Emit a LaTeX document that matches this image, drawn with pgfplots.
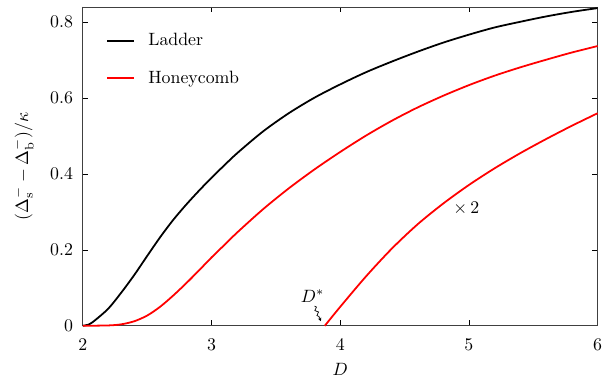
\documentclass[border=0pt]{standalone}
\usepackage{pgfplots}
\pgfplotsset{compat=1.18}
\usetikzlibrary{arrows.meta,decorations.pathmorphing}

\begin{document}
\begin{tikzpicture}
\begin{axis}[name=ax,
    scale only axis, width=289pt, height=179pt,
    xmin=2, xmax=6, ymin=0, ymax=0.84,
    xtick={2,3,4,5,6}, ytick={0,0.2,0.4,0.6,0.8},
    tick align=inside, major tick length=3pt,
    tick style={black, thin},
    axis line style={black!75},
    xticklabel shift=4pt, yticklabel shift=2pt,
    xlabel={$D$},
    ylabel={$(\Delta_\mathrm{s}^- - \Delta_\mathrm{b}^-)/\kappa$},
    ylabel shift=2.5pt,
    clip=false,
    legend cell align=left,
    legend style={draw=none, fill=none, at={(0.035,0.94)}, anchor=north west,
      row sep=8.5pt},
    legend image code/.code={\draw[#1] (0cm,0cm) -- (0.53cm,0cm); \path (0.72cm,0cm);},
  ]
  % Ladder
  \addplot[black, line width=1pt, smooth] coordinates {
    (2.0,0) (2.05,0.004) (2.1,0.016) (2.2,0.046) (2.3,0.088) (2.4,0.134)
    (2.5,0.184) (2.6,0.233) (2.7,0.278) (2.8,0.318) (2.9,0.355) (3.0,0.390)
    (3.1,0.423) (3.2,0.455) (3.4,0.512) (3.6,0.560) (3.8,0.601) (4.0,0.636)
    (4.2,0.668) (4.4,0.696) (4.6,0.722) (4.8,0.746) (5.0,0.767) (5.2,0.786)
    (5.4,0.801) (5.6,0.815) (5.8,0.827) (6.0,0.837)};
  \addlegendentry{Ladder}
  % Honeycomb
  \addplot[red, line width=1pt, smooth] coordinates {
    (2.0,0) (2.2,0.001) (2.3,0.004) (2.4,0.012) (2.5,0.027) (2.6,0.050)
    (2.7,0.079) (2.8,0.111) (2.9,0.145) (3.0,0.180) (3.1,0.213) (3.2,0.246)
    (3.4,0.307) (3.6,0.362) (3.8,0.412) (4.0,0.458) (4.2,0.501) (4.4,0.540)
    (4.6,0.575) (4.8,0.606) (5.0,0.634) (5.2,0.659) (5.4,0.681) (5.6,0.701)
    (5.8,0.720) (6.0,0.737)};
  \addlegendentry{Honeycomb}
  % Honeycomb, x2 (above D*)
  \addplot[red, line width=1pt, smooth, forget plot] coordinates {
    (3.88,0) (4.0,0.050) (4.2,0.130) (4.4,0.203) (4.6,0.267) (4.8,0.322)
    (5.0,0.371) (5.2,0.415) (5.4,0.455) (5.6,0.492) (5.8,0.527) (6.0,0.560)};
  \node at (axis cs:4.98,0.31) {$\times\,2$};
  \node at (axis cs:3.786,0.078) {$D^*$};
  \draw[-{Stealth[length=2pt,width=2pt]}, thin,
    decorate, decoration={snake, amplitude=0.8pt, segment length=3pt, post length=1.5pt}]
    (axis cs:3.80,0.052) -- (axis cs:3.85,0.012);
\end{axis}
\path (ax.south west) ++(-46.5pt,-27.4pt);
\path (ax.north east) ++(5pt,3.9pt);
\end{tikzpicture}
\end{document}
